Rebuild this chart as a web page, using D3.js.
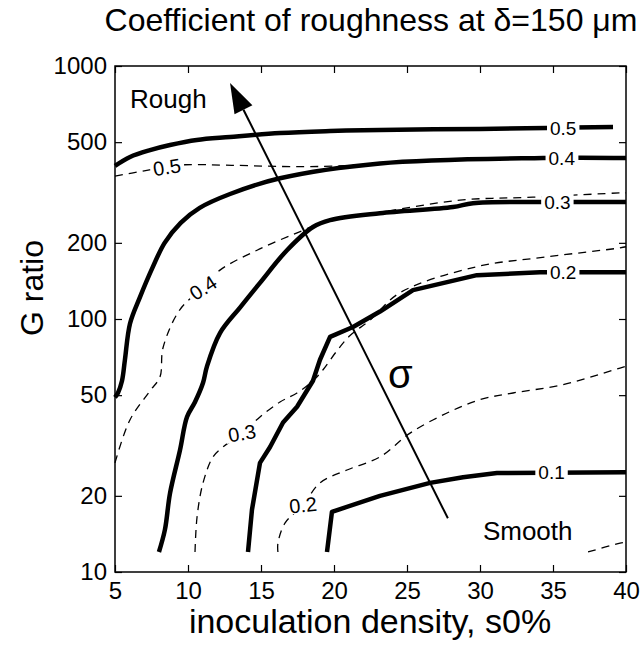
<!DOCTYPE html>
<html>
<head>
<meta charset="utf-8">
<script src="https://cdn.jsdelivr.net/npm/d3@7"></script>
<style>
  body { margin: 0; background: #fff; }
  svg { display: block; }
  text { font-family: "Liberation Sans", Arial, Helvetica, sans-serif; fill: #000; }
</style>
</head>
<body>
<svg id="chart" width="641" height="646"></svg>
<script>
// ---- data -------------------------------------------------------------
const xTicks = [5, 10, 15, 20, 25, 30, 35, 40];
const yTicks = [10, 20, 50, 100, 200, 500, 1000];
const levels = [0.1, 0.2, 0.3, 0.4, 0.5];

// solid contours: [inoculation density %, G ratio]
const solid01 = [[19.52, 12], [19.86, 17.3], [23.15, 20], [26.58, 22.5], [28.84, 23.7], [31.16, 24.6], [40, 24.8]];
const solid02 = [[14.11, 12], [14.38, 17.6], [14.93, 27], [15.62, 31.2], [16.51, 39], [17.47, 45], [18.56, 57],
                 [19.04, 69], [19.73, 85], [21.3, 93], [23.15, 107], [25.41, 130], [29.79, 149], [34.11, 153], [40, 153]];
const solid03 = [[8.01, 12], [8.42, 14.7], [8.77, 20.5], [9.45, 30.3], [9.93, 41], [10.48, 47], [11.03, 56], [11.3, 65],
                 [12.19, 88], [13.56, 111], [14.93, 139], [16.78, 187], [18.56, 231], [19.73, 246], [23.15, 262],
                 [28.15, 277], [29.52, 287], [34.11, 290], [40, 290]];
const solid04 = [[5, 49], [5.2, 51], [5.48, 57], [5.68, 69], [6.03, 96], [6.71, 122], [7.6, 161], [8.4, 200],
                 [9.5, 240], [10.8, 275], [12.88, 312], [16.3, 360], [23.15, 412], [34.32, 433], [40, 433]];
const solid05 = [[5, 403], [6.03, 437], [7.4, 465], [8.77, 487], [10.6, 510], [12.88, 524], [16.3, 543],
                 [19.73, 553], [23.15, 559], [30, 564], [34.59, 569], [39.11, 574]];

// dashed contours
const dashed01 = [[37.4, 12], [39.59, 13], [40, 13.1]];
const dashed02 = [[16.16, 12], [16.16, 13], [16.64, 15.6], [17.88, 18.4], [19.04, 22.5], [20.89, 25.3], [23.15, 28.5],
                  [25.21, 35.4], [27.74, 42.5], [30, 48], [32.26, 51], [35.68, 55], [39.59, 64], [40, 65]];
const dashed03 = [[10.48, 12], [10.62, 16.5], [11.03, 22.5], [11.71, 28.5], [12.4, 31.2], [13.7, 35.4], [14.93, 41],
                  [16.3, 47], [17.47, 51], [18.56, 57], [19.25, 63], [20.21, 75], [21.1, 86], [22.47, 99],
                  [24.52, 127], [29.79, 161], [34.59, 176], [39.59, 191], [40, 193]];
const dashed04 = [[5, 27], [6.03, 40], [7.4, 52], [8.08, 59], [8.29, 77], [9.45, 109], [11.03, 133], [12.19, 156],
                  [14.73, 187], [17.47, 219], [19.73, 246], [23.15, 264], [28.63, 295], [33.63, 303], [39.59, 315], [40, 315]];
const dashed05 = [[5, 367], [7, 385], [8.56, 399], [9.79, 407], [13, 405], [17.67, 400], [21, 404], [23.15, 412]];

// contour label anchors [x, G]
const solidLabelAt  = [[34.9, 24.8], [35.7, 153], [35.3, 290], [35.6, 433], [35.7, 569]];
const dashedLabelAt = [null, [17.88, 18.4], [13.7, 35.4], [11.03, 133], [8.56, 399]];

// direction-of-increasing-sigma arrow and annotations
const sigmaArrow = { from: [27.8, 16.3], to: [12.88, 857] };
const notes = [
  { text: "Rough",  at: [6.03, 682] },
  { text: "Smooth", at: [30.2, 13.4] },
  { text: "\u03c3",  at: [23.7, 53.4] }
];

// ---- drawing ----------------------------------------------------------
const svg = d3.select("#chart");
const x = d3.scaleLinear().domain([5, 40]).range([115, 626]);
const y = d3.scaleLog().domain([10, 1000]).range([572, 66]);

const smoothLine = d3.line().x(d => x(d[0])).y(d => y(d[1])).curve(d3.curveCatmullRom.alpha(0.5));
const sharpLine  = d3.line().x(d => x(d[0])).y(d => y(d[1]));

const solids  = [solid01, solid02, solid03, solid04, solid05];
const dasheds = [dashed01, dashed02, dashed03, dashed04, dashed05];

// dashed contours (thin)
svg.append("g").selectAll("path").data(dasheds).join("path")
  .attr("d", smoothLine)
  .attr("fill", "none").attr("stroke", "#000")
  .attr("stroke-width", 1.3).attr("stroke-dasharray", "8,6");

// solid contours (heavy); the two lowest levels keep their corners
svg.append("g").selectAll("path").data(solids).join("path")
  .attr("d", (d, i) => (i < 2 ? sharpLine : smoothLine)(d))
  .attr("fill", "none").attr("stroke", "#000")
  .attr("stroke-width", 4.5).attr("stroke-linejoin", "round");

// contour labels: white gap in the line, then the value
const tilt = [0, -6, -10, -33, -9];
function drawLabel(g, v, pos, angle, size) {
  const gx = g.append("g")
    .attr("transform", `translate(${x(pos[0])},${y(pos[1])}) rotate(${angle})`);
  const rect = gx.append("rect").attr("fill", "#fff");
  const t = gx.append("text")
    .attr("text-anchor", "middle").attr("dy", "0.36em")
    .attr("font-size", size).text(v);
  const bb = t.node().getBBox();
  rect.attr("x", bb.x - 3).attr("y", -8).attr("width", bb.width + 6).attr("height", 16);
}
const labels = svg.append("g");
levels.forEach((v, i) => drawLabel(labels, v, solidLabelAt[i], 0, 19));
levels.forEach((v, i) => { if (dashedLabelAt[i]) drawLabel(labels, v, dashedLabelAt[i], tilt[i], 20); });

// sigma arrow
const p0 = [x(sigmaArrow.from[0]), y(sigmaArrow.from[1])];
const p1 = [x(sigmaArrow.to[0]), y(sigmaArrow.to[1])];
const ang = Math.atan2(p1[1] - p0[1], p1[0] - p0[0]);
const headLen = 30, headHalf = 10;
const base = [p1[0] - headLen * Math.cos(ang), p1[1] - headLen * Math.sin(ang)];
svg.append("line")
  .attr("x1", p0[0]).attr("y1", p0[1]).attr("x2", base[0]).attr("y2", base[1])
  .attr("stroke", "#000").attr("stroke-width", 2);
svg.append("path")
  .attr("d", d3.line()([
    p1,
    [base[0] + headHalf * Math.sin(ang), base[1] - headHalf * Math.cos(ang)],
    [base[0] - headHalf * Math.sin(ang), base[1] + headHalf * Math.cos(ang)]
  ]) + "Z")
  .attr("fill", "#000");

// annotations
svg.append("g").selectAll("text").data(notes).join("text")
  .attr("x", d => x(d.at[0])).attr("y", d => y(d.at[1]))
  .attr("font-size", d => d.text === "\u03c3" ? 40 : 26)
  .text(d => d.text);

// axes with inward ticks
const fmt = d3.format("d");
const ax = svg.append("g").attr("font-size", 24);
ax.append("g").attr("transform", "translate(0,572)")
  .call(d3.axisBottom(x).tickValues(xTicks).tickSizeInner(-7).tickSizeOuter(0).tickPadding(10).tickFormat(fmt));
ax.append("g").attr("transform", "translate(0,66)")
  .call(d3.axisTop(x).tickValues(xTicks).tickSizeInner(-7).tickSizeOuter(0).tickFormat(""));
ax.append("g").attr("transform", "translate(115,0)")
  .call(d3.axisLeft(y).tickValues(yTicks).tickSizeInner(-7).tickSizeOuter(0).tickPadding(8).tickFormat(fmt));
ax.append("g").attr("transform", "translate(626,0)")
  .call(d3.axisRight(y).tickValues(yTicks).tickSizeInner(-7).tickSizeOuter(0).tickFormat(""));
ax.selectAll(".domain").remove();
ax.selectAll(".tick line").attr("stroke", "#000").attr("stroke-width", 1.2);
ax.selectAll(".tick text").attr("fill", "#000").attr("font-family", "'Liberation Sans', Arial, sans-serif").attr("font-size", 24);

// frame
svg.append("rect")
  .attr("x", 115).attr("y", 66).attr("width", 511).attr("height", 506)
  .attr("fill", "none").attr("stroke", "#000").attr("stroke-width", 1.5);

// titles
svg.append("text").attr("x", 371).attr("y", 31).attr("text-anchor", "middle")
  .attr("font-size", 32).text("Coefficient of roughness at \u03b4=150 \u03bcm");
svg.append("text").attr("x", 370).attr("y", 633).attr("text-anchor", "middle")
  .attr("font-size", 34).text("inoculation density, s0%");
svg.append("text").attr("transform", "translate(43,288) rotate(-90)").attr("text-anchor", "middle")
  .attr("font-size", 32).text("G ratio");
</script>
</body>
</html>
